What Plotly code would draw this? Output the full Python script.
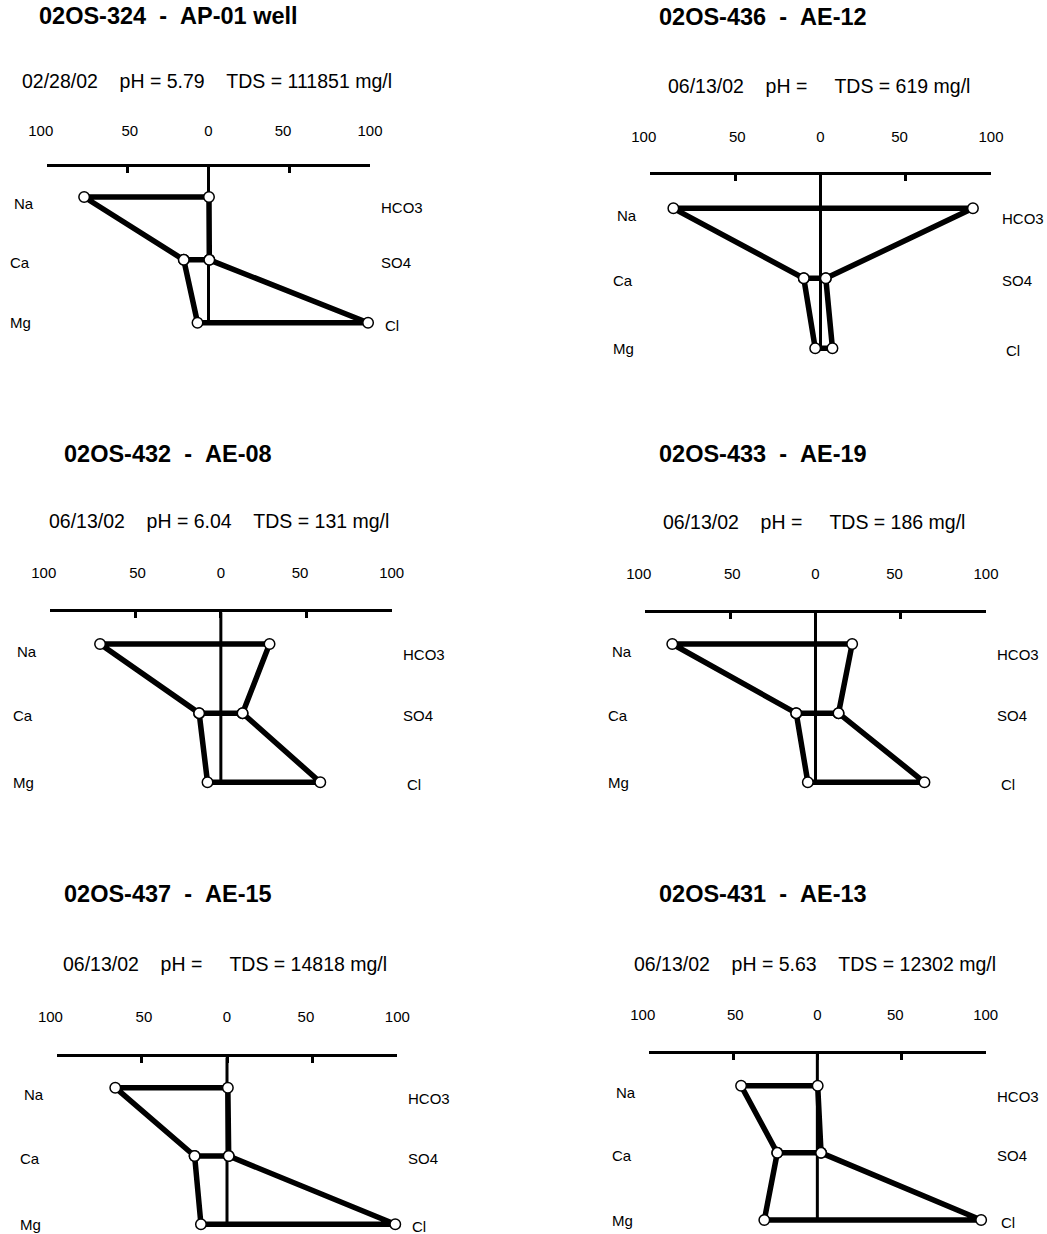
import plotly.graph_objects as go

# ---------------- data ----------------
sample_ids = ["02OS-324", "02OS-436", "02OS-432", "02OS-433", "02OS-437", "02OS-431"]
site_names = ["AP-01 well", "AE-12", "AE-08", "AE-19", "AE-15", "AE-13"]
dates = ["02/28/02", "06/13/02", "06/13/02", "06/13/02", "06/13/02", "06/13/02"]
ph_values = ["5.79", "", "6.04", "", "", "5.63"]
tds_values = [111851, 619, 131, 186, 14818, 12302]

# percent meq/l (cations plotted to the left, anions to the right)
na = [77.0, 86.3, 70.7, 84.0, 65.6, 45.3]
ca = [15.3, 9.8, 12.7, 11.3, 19.0, 23.8]
mg = [6.8, 3.1, 7.8, 4.5, 15.3, 31.5]
hco3 = [0.3, 89.4, 28.5, 21.5, 0.5, 0.2]
so4 = [0.5, 3.1, 12.7, 13.5, 1.0, 2.2]
cl = [98.8, 7.0, 58.2, 63.9, 98.8, 97.3]

cation_labels = ["Na", "Ca", "Mg"]
anion_labels = ["HCO3", "SO4", "Cl"]
tick_values = [-100, -50, 0, 50, 100]
tick_labels = ["100", "50", "0", "50", "100"]

# ---------------- layout geometry (pixels) ----------------
W, H = 1047, 1234
# axis left px, axis right px, axis line centre y px, Na row y px, Mg row y px
geom = [
    (47, 370, 165.5, 197, 322.7),
    (650, 991, 173.3, 208.3, 348.3),
    (50, 391.7, 610.7, 644, 782.3),
    (645, 986, 611.7, 644, 782.3),
    (56.7, 397.3, 1055.7, 1087.7, 1224.3),
    (649, 985.7, 1052.3, 1085.7, 1220),
]
standoffs = [22, 24, 25, 25, 26, 25]
title_pos = [(168, 16), (763, 16.7), (168, 454.3), (763, 454), (168, 894.3), (763, 894.3)]
sub_y = [81, 86, 521, 522.3, 964.3, 964.3]

FONT = "Liberation Sans, Arial, sans-serif"
NB = "\u00a0"
LINE_W = 3
Y_PAD = 0.14
# small horizontal nudges of the scale labels (leading, trailing non-breaking spaces)
tick_pad = [(0, 3), (1, 0), (0, 0), (0, 3), (0, 0)]
tick_text = [NB * a + t + NB * b for t, (a, b) in zip(tick_labels, tick_pad)]

fig = go.Figure()
annotations = []
layout_axes = {}

for i in range(6):
    k = "" if i == 0 else str(i + 1)
    xa, ya = "x" + k, "y" + k
    x0, x1, yline, yna, ymg = geom[i]
    rowpx = (ymg - yna) / 2.0
    top_px = yline + LINE_W / 2.0
    y_top = 1 - (yna - top_px) / rowpx
    y_bot = 3 + Y_PAD
    bot_px = ymg + Y_PAD * rowpx

    # centre line
    fig.add_trace(go.Scatter(
        x=[0, 0], y=[y_top, 3], mode="lines",
        line=dict(color="black", width=3), xaxis=xa, yaxis=ya,
        showlegend=False, hoverinfo="skip"))

    # Stiff polygon (path also covers the Ca–SO4 connector)
    px = [so4[i], hco3[i], -na[i], -ca[i], -mg[i], cl[i], so4[i], -ca[i]]
    py = [2, 1, 1, 2, 3, 3, 2, 2]
    fig.add_trace(go.Scatter(
        x=px, y=py, mode="lines+markers",
        line=dict(color="black", width=5.5),
        marker=dict(size=10.5, color="white", line=dict(color="black", width=1.5)),
        cliponaxis=False, xaxis=xa, yaxis=ya, showlegend=False, hoverinfo="skip"))

    layout_axes["xaxis" + k] = dict(
        domain=[x0 / W, x1 / W], range=[-100, 100], anchor=ya, side="top",
        showline=True, linecolor="black", linewidth=LINE_W,
        ticks="inside", ticklen=6, tickwidth=3, tickcolor="black",
        tickvals=tick_values, ticktext=tick_text,
        ticklabelstandoff=standoffs[i], automargin=False,
        tickfont=dict(family=FONT, size=15, color="black"),
        showgrid=False, zeroline=False, fixedrange=True)
    layout_axes["yaxis" + k] = dict(
        domain=[1 - bot_px / H, 1 - top_px / H], range=[y_bot, y_top],
        anchor=xa, visible=False, automargin=False, fixedrange=True)

    # titles
    tx, ty = title_pos[i]
    title = f"{sample_ids[i]}{NB}{NB}-{NB}{NB}{site_names[i]}"
    annotations.append(dict(
        text=f"<b>{title}</b>", x=tx / W, y=1 - ty / H, xref="paper", yref="paper",
        xanchor="center", yanchor="middle", showarrow=False,
        font=dict(family=FONT, size=23.5, color="black")))
    sub = (f"{dates[i]}{NB*4}pH{NB}={NB}{ph_values[i]}{NB*4}"
           f"TDS{NB}={NB}{tds_values[i]}{NB}mg/l")
    annotations.append(dict(
        text=sub, x=((x0 + x1) / 2 - 2) / W, y=1 - sub_y[i] / H,
        xref="paper", yref="paper", xanchor="center", yanchor="middle",
        showarrow=False, font=dict(family=FONT, size=19.5, color="black")))

    # ion labels
    cat_dx = [-35, -39, -39]
    cat_dy = [-7, -2.5, 0]
    an_dx = [9, 9, 13]
    an_dy = [-10.5, -2.5, -2.5]
    for r in range(3):
        annotations.append(dict(
            text=cation_labels[r], x=-100, y=r + 1, xref=xa, yref=ya,
            xanchor="left", yanchor="middle", xshift=cat_dx[r], yshift=cat_dy[r],
            showarrow=False, font=dict(family=FONT, size=15, color="black")))
        annotations.append(dict(
            text=anion_labels[r], x=100, y=r + 1, xref=xa, yref=ya,
            xanchor="left", yanchor="middle", xshift=an_dx[r], yshift=an_dy[r],
            showarrow=False, font=dict(family=FONT, size=15, color="black")))

fig.update_layout(
    width=W, height=H, autosize=False,
    margin=dict(l=0, r=0, t=0, b=0, pad=0, autoexpand=False),
    paper_bgcolor="white", plot_bgcolor="white",
    showlegend=False, annotations=annotations, **layout_axes)

fig.write_html("out.html", post_script="document.body.style.margin='0';",
               config={"displayModeBar": False})
